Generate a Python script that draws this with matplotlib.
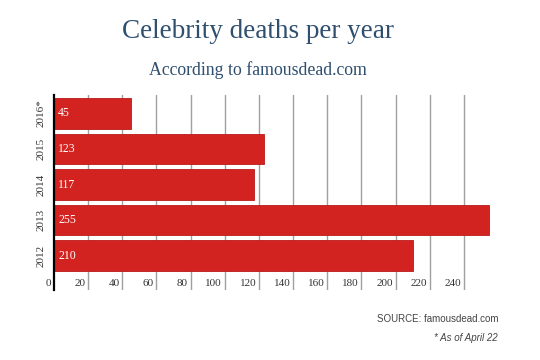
import matplotlib
matplotlib.use("Agg")
import matplotlib.pyplot as plt
import matplotlib.transforms as mtransforms

years = ["2012", "2013", "2014", "2015", "2016*"]
deaths = [210, 255, 117, 123, 45]
xticks = [0, 20, 40, 60, 80, 100, 120, 140, 160, 180, 200, 220, 240]

bar_color = "#d32320"
title_color = "#2f4f6f"
serif = ["Liberation Serif", "DejaVu Serif"]

fig = plt.figure(figsize=(5.4, 3.6), dpi=100)
ax = fig.add_axes([54 / 540, 1 - 290 / 360, 444 / 540, 195 / 360])

ypos = list(range(len(years)))
ax.barh(ypos, deaths, height=0.87, color=bar_color, edgecolor="#b81b1a",
        linewidth=0.6, zorder=3)

ax.set_xlim(0, 260)
ax.set_ylim(-0.97, 4.52)

# vertical gridlines
for v in xticks[1:]:
    ax.axvline(v, color="#a0a0a0", linewidth=1, zorder=1)

# x tick labels sit just left of their gridline, below the bars
for v in xticks:
    ax.annotate(str(v), xy=(v, -0.8), xytext=(-2, 0), textcoords="offset points",
                ha="right", va="center", fontsize=8, color="#333333",
                family=serif)

# year labels rotated on the left
trans = mtransforms.blended_transform_factory(fig.transFigure, ax.transData)
for y, lab in zip(ypos, years):
    ax.text(41 / 540, y, lab, rotation=90, ha="center", va="center",
            fontsize=8, color="#333333", family=serif, transform=trans)

# value labels inside the bars
for y, v in zip(ypos, deaths):
    ax.annotate(str(v), xy=(0, y), xytext=(3, 0), textcoords="offset points",
                ha="left", va="center", fontsize=8.5, color="white",
                family=serif, zorder=4)

ax.set_xticks([])
ax.set_yticks([])
for s in ["top", "right", "bottom"]:
    ax.spines[s].set_visible(False)
ax.spines["left"].set_color("black")
ax.spines["left"].set_linewidth(1.6)
ax.spines["left"].set_zorder(5)

fig.text(258 / 540, 1 - 32 / 360, "Celebrity deaths per year", ha="center",
         va="center", fontsize=19.5, color=title_color, family=serif)
fig.text(258 / 540, 1 - 70 / 360, "According to famousdead.com", ha="center",
         va="center", fontsize=12.8, color=title_color, family=serif)

sans = ["Liberation Sans", "DejaVu Sans"]
fig.text(498 / 540, 1 - 319 / 360, "SOURCE: famousdead.com", ha="right",
         va="center", fontsize=7, color="#444444", family=sans)
fig.text(498 / 540, 1 - 338 / 360, "* As of April 22", ha="right",
         va="center", fontsize=7, color="#444444", family=sans, style="italic")

fig.savefig("out.png", dpi=100, facecolor="white")
